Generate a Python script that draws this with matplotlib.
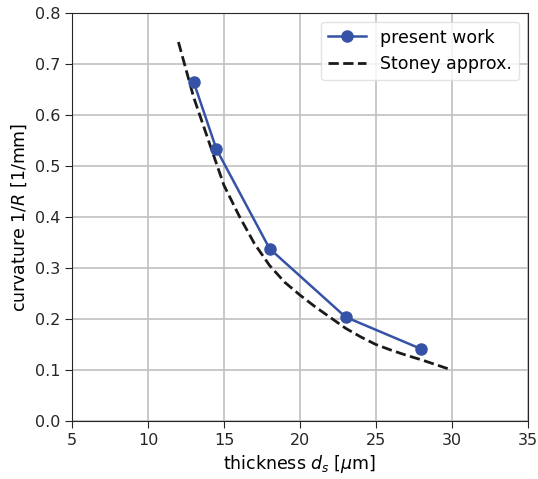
import matplotlib
matplotlib.use("Agg")
import matplotlib.pyplot as plt

# measured curvature (present work)
d_meas = [13, 14.5, 18, 23, 28]
k_meas = [0.665, 0.533, 0.338, 0.204, 0.141]

# Stoney approximation
d_stoney = [12, 13, 14, 15, 16, 17, 18, 19, 20, 21, 22, 23, 24, 25, 26, 27, 28, 29, 30]
k_stoney = [0.743, 0.635, 0.548, 0.462, 0.402, 0.348, 0.305, 0.272, 0.247, 0.224,
            0.203, 0.182, 0.165, 0.150, 0.139, 0.129, 0.120, 0.110, 0.100]

plt.rcParams['font.family'] = 'DejaVu Sans'
fig = plt.figure(figsize=(5.38, 4.79), dpi=100)
ax = fig.add_axes([0.134, 0.121, 0.847, 0.852])

ax.plot(d_meas, k_meas, '-o', color='#3652a6', lw=1.8, ms=8, label='present work', zorder=3)
ax.plot(d_stoney, k_stoney, '--', color='#1a1a1a', lw=2, label='Stoney approx.', zorder=2)

ax.set_xlim(5, 35)
ax.set_ylim(0, 0.8)
ax.set_xticks([5, 10, 15, 20, 25, 30, 35])
ax.set_yticks([0.0, 0.1, 0.2, 0.3, 0.4, 0.5, 0.6, 0.7, 0.8])
ax.set_xlabel(r'thickness $d_s$ [$\mu$m]', fontsize=12.5)
ax.set_ylabel(r'curvature 1/$R$ [1/mm]', fontsize=12.5)
ax.tick_params(labelsize=11.5, length=5, color='#262626', labelcolor='#262626')
ax.grid(True, color='#c0c0c0', lw=1.2)
ax.set_axisbelow(True)
for s in ax.spines.values():
    s.set_color('#262626')

ax.legend(loc='upper right', fontsize=12.5, framealpha=0.8, edgecolor='#dddddd',
          labelspacing=0.5, handlelength=2.2)

fig.savefig('out.png', dpi=100)
